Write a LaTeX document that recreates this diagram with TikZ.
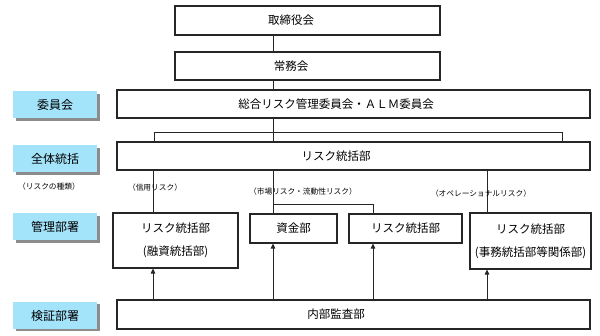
\documentclass[tikz,border=0pt]{standalone}
\usepackage{fontspec}
\setmainfont{Noto Sans CJK JP}
\usetikzlibrary{arrows.meta,positioning,shadows}
\definecolor{tierblue}{HTML}{A3E4FB}
\definecolor{boxline}{HTML}{262626}
\definecolor{shadowgray}{HTML}{8C8C8C}

\begin{document}
\begin{tikzpicture}[
    x=1pt, y=-1pt,
    font=\fontsize{11.5}{13}\selectfont,
    orgbox/.style={draw=boxline, line width=1.1pt, inner sep=0pt, align=center},
    tierlabel/.style={fill=tierblue, minimum width=84pt, minimum height=27pt, inner sep=0pt,
        font=\fontsize{12}{14}\selectfont,
        drop shadow={shadow xshift=2.5pt, shadow yshift=-2.5pt, fill=shadowgray, opacity=1}},
    risklabel/.style={font=\fontsize{7.7}{9}\selectfont, inner sep=0pt},
    link/.style={draw=boxline, line width=0.9pt},
    auditarrow/.style={draw=boxline, line width=0.9pt, -{Triangle[length=5pt, width=4.5pt]}},
]

\useasboundingbox (0,0) rectangle (600,336);

% ============================================================
% TIER LABELS (left column)
% ============================================================
\node[tierlabel] (tcommittee) at (55,105) {委員会};
\node[tierlabel] (toverall) at (55,159) {全体統括};
\node[risklabel] (kinds) at (49,187) {（リスクの種類）};
\node[tierlabel] (tmanage) at (55,227) {管理部署};
\node[tierlabel] (taudit) at (55,315.5) {検証部署};

% ============================================================
% ORGANISATION BOXES
% ============================================================
% wide boxes: text sits left of the box centre
\node[orgbox, minimum width=265pt, minimum height=29pt] (board) at (307.5,20.5) {};
\node (boardtxt) at (291,20.5) {取締役会};
\node[orgbox, minimum width=265pt, minimum height=28pt] (exec) at (307.5,66) {};
\node (exectxt) at (291,66) {常務会};
\node[orgbox, minimum width=473pt, minimum height=28pt] (committee) at (353.5,104) {};
\node (committeetxt) at (336,104) {総合リスク管理委員会・ＡＬＭ委員会};
\node[orgbox, minimum width=473pt, minimum height=28pt] (riskall) at (353.5,156) {};
\node (riskalltxt) at (336,156) {リスク統括部};

\node[orgbox, minimum width=125pt, minimum height=55pt] (loan) at (175.5,240.5) {リスク統括部\\[10pt](融資統括部)};
\node[orgbox, minimum width=87pt, minimum height=29pt] (funds) at (293.5,228.5) {資金部};
\node[orgbox, minimum width=113pt, minimum height=29pt] (mrisk) at (405.5,228.5) {リスク統括部};
\node[orgbox, minimum width=121pt, minimum height=56pt] (oprisk) at (530.5,241) {リスク統括部\\[10pt](事務統括部等関係部)};

\node[orgbox, minimum width=473pt, minimum height=29pt] (audit) at (353.5,314.5) {};
\node (audittxt) at (336,314.5) {内部監査部};

% ============================================================
% REPORTING LINES
% ============================================================
\coordinate (spine) at (273,0);
\coordinate (credit) at (153,0);
\coordinate (mdrop) at (373,0);
\coordinate (operation) at (487,0);
\coordinate (bl) at (154,132);
\coordinate (br) at (562,132);
\coordinate (fork) at (273,204);

\draw[link] (board.south -| spine) -- (exec.north -| spine);
\draw[link] (exec.south -| spine) -- (committee.north -| spine);
\draw[link] (committee.south -| spine) -- (riskall.north -| spine);
\draw[link] (riskall.north -| bl) |- (br) -- (riskall.north -| br);

\draw[link] (riskall.south -| credit) -- (loan.north -| credit);
\draw[link] (riskall.south -| spine) -- (funds.north -| spine);
\draw[link] (fork) -| (mrisk.north -| mdrop);
\draw[link] (riskall.south -| operation) -- (oprisk.north -| operation);

% Risk types
\node[risklabel] (credlbl) at (155,188) {（信用リスク）};
\node[risklabel] (mktlbl) at (303,192) {（市場リスク・流動性リスク）};
\node[risklabel] (oplbl) at (481,194) {（オペレーショナルリスク）};

% ============================================================
% AUDIT ARROWS
% ============================================================
\draw[auditarrow] (audit.north -| credit) -- (loan.south -| credit);
\draw[auditarrow] (audit.north -| spine) -- (funds.south -| spine);
\draw[auditarrow] (audit.north -| mdrop) -- (mrisk.south -| mdrop);
\draw[auditarrow] (audit.north -| operation) -- (oprisk.south -| operation);

\end{tikzpicture}
\end{document}
